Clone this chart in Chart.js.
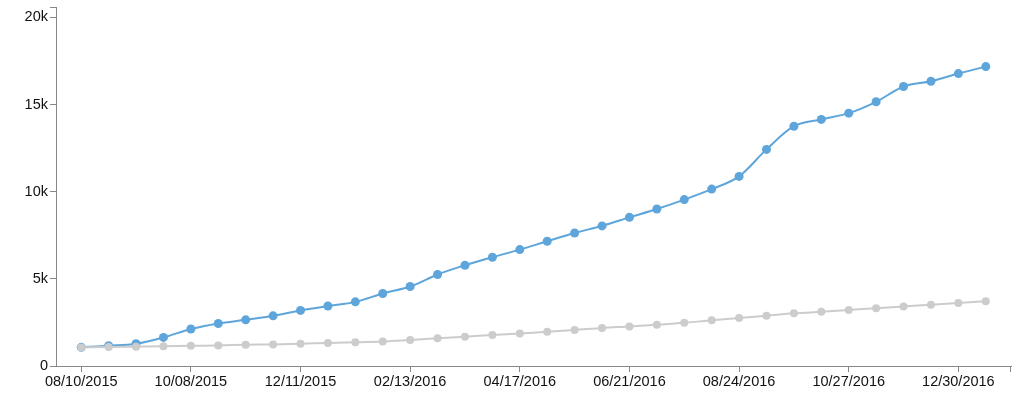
<!DOCTYPE html>
<html>
<head>
<meta charset="utf-8">
<script src="https://cdn.jsdelivr.net/npm/chart.js@4/dist/chart.umd.min.js"></script>
<style>
  html, body { margin: 0; padding: 0; background: #fff; }
  #chart { display: block; }
</style>
</head>
<body>
<canvas id="chart" width="1024" height="405"></canvas>
<script>
// tick labels on the x axis, one every 4 points
const xTickLabels = ["08/10/2015", "10/08/2015", "12/11/2015", "02/13/2016", "04/17/2016",
  "06/21/2016", "08/24/2016", "10/27/2016", "12/30/2016"];
const yTickValues = [0, 5000, 10000, 15000, 20000];

// series values
const blueValues = [1070, 1160, 1280, 1640, 2120, 2440, 2650, 2880, 3190, 3440,
  3680, 4160, 4560, 5250, 5780, 6240, 6680, 7160, 7630, 8040,
  8530, 9010, 9550, 10150, 10880, 12430, 13760, 14150, 14510, 15160,
  16040, 16340, 16780, 17180];
const grayValues = [1060, 1090, 1110, 1130, 1160, 1180, 1220, 1240, 1280, 1320,
  1360, 1410, 1490, 1590, 1680, 1780, 1870, 1960, 2060, 2180,
  2270, 2370, 2480, 2620, 2750, 2880, 3020, 3110, 3210, 3320,
  3420, 3510, 3610, 3720];

const axisColor = "#888";
const tickFont = { family: "Liberation Sans, Arial, sans-serif", size: 14.5 };

function toPoints(values) {
  return values.map(function (v, i) { return { x: i, y: v }; });
}

// d3-style outer ticks at the ends of both axes
const outerTicks = {
  id: "outerTicks",
  afterDraw(chart) {
    const ctx = chart.ctx;
    const a = chart.chartArea;
    ctx.save();
    ctx.strokeStyle = axisColor;
    ctx.lineWidth = 1;
    ctx.beginPath();
    ctx.moveTo(a.left - 6, a.top + 0.5);
    ctx.lineTo(a.left, a.top + 0.5);
    ctx.moveTo(a.right - 0.5, a.bottom);
    ctx.lineTo(a.right - 0.5, a.bottom + 6);
    ctx.stroke();
    ctx.restore();
  }
};

new Chart(document.getElementById("chart").getContext("2d"), {
  type: "line",
  data: {
    datasets: [
      {
        label: "Baseline",
        data: toPoints(grayValues),
        borderColor: "#cccccc",
        backgroundColor: "#cccccc",
        borderWidth: 2,
        pointRadius: 4,
        pointBorderWidth: 0,
        cubicInterpolationMode: "monotone",
      },
      {
        label: "Total",
        data: toPoints(blueValues),
        borderColor: "#5da5da",
        backgroundColor: "#5da5da",
        borderWidth: 2,
        pointRadius: 4.5,
        pointBorderWidth: 0,
        cubicInterpolationMode: "monotone",
      },
    ],
  },
  plugins: [outerTicks],
  options: {
    responsive: false,
    animation: false,
    layout: { padding: { top: 7, right: 13, left: 0, bottom: 0 } },
    plugins: {
      legend: { display: false },
      tooltip: { enabled: false },
    },
    scales: {
      x: {
        type: "linear",
        min: -0.92,
        max: 33.92,
        afterBuildTicks: function (scale) {
          scale.ticks = xTickLabels.map(function (_, i) { return { value: i * 4 }; });
        },
        afterFit: function (scale) {
          scale.height = 39;
          scale.paddingLeft = 0;
          scale.paddingRight = 0;
        },
        grid: {
          drawOnChartArea: false,
          drawTicks: true,
          tickLength: 6,
          color: axisColor,
        },
        border: { display: true, color: axisColor, width: 1 },
        ticks: {
          autoSkip: false,
          maxRotation: 0,
          padding: 1,
          color: "#111",
          font: tickFont,
          callback: function (value) { return xTickLabels[Math.round(value / 4)]; },
        },
      },
      y: {
        min: 0,
        max: 20600,
        afterBuildTicks: function (scale) {
          scale.ticks = yTickValues.map(function (v) { return { value: v }; });
        },
        afterFit: function (scale) {
          scale.width = 56;
          scale.paddingTop = 0;
          scale.paddingBottom = 0;
        },
        grid: {
          drawOnChartArea: false,
          drawTicks: true,
          tickLength: 6,
          color: axisColor,
        },
        border: { display: true, color: axisColor, width: 1 },
        ticks: {
          padding: 2,
          color: "#111",
          font: tickFont,
          callback: function (value) { return value === 0 ? "0" : value / 1000 + "k"; },
        },
      },
    },
  },
});
</script>
</body>
</html>
